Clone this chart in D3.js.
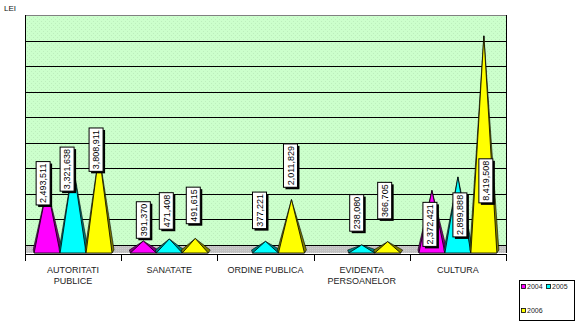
<!DOCTYPE html>
<html>
<head>
<meta charset="utf-8">
<script src="https://cdn.jsdelivr.net/npm/d3@7"></script>
<style>
  html, body { margin: 0; padding: 0; background: #fff; }
  svg { display: block; font-family: "Liberation Sans", Arial, sans-serif; }
</style>
</head>
<body>
<svg id="chart" width="576" height="322"></svg>
<script>
// Budget by domain, in LEI
const categories = [["AUTORITATI", "PUBLICE"], ["SANATATE"], ["ORDINE PUBLICA"], ["EVIDENTA", "PERSOANELOR"], ["CULTURA"]];
const seriesNames = ["2004", "2005", "2006"];
const values2004 = [2493511, 391370, null, null, 2372421];
const values2005 = [3321638, 471408, 377221, 238080, 2899888];
const values2006 = [3808911, 491615, 2011829, 366705, 8419508];
const valueTicks = [0, 1e6, 2e6, 3e6, 4e6, 5e6, 6e6, 7e6, 8e6];
const valueMax = 9e6;

// Hand-placed data label nudges (px) so the boxes do not collide
const labelDy = [[-4, -21, 0, 0, 34], [3, -28, -31, -32, 38], [-4, -33, -34, -41, 145]];
const labelDx = [[-4, 0, 0, 0, -2], [-6, -3, -6, -5, 2], [-3, -2, -1, -3, 2]];

const seriesValues = [values2004, values2005, values2006];
const fills = ["#ff00ff", "#00ffff", "#ffff00"];
const sides = ["#800080", "#008080", "#808000"];

const svg = d3.select("#chart");
const plotLeft = 25, plotRight = 506, plotTop = 15, wallBottom = 245, floorFront = 253, depth = 6;

const catKeys = categories.map(c => c.join(" "));
const x = d3.scaleBand().domain(catKeys).range([plotLeft, plotRight]).paddingInner(0).paddingOuter(0);
const groupPad = x.bandwidth() * 0.095;
const xs = d3.scaleBand().domain(seriesNames).range([groupPad, x.bandwidth() - groupPad]).padding(0);
const y = d3.scaleLinear().domain([0, valueMax]).range([wallBottom, plotTop]);

// dotted wall and floor patterns
const defs = svg.append("defs");
const pat = defs.append("pattern").attr("id", "wallDots").attr("width", 4).attr("height", 4)
  .attr("patternUnits", "userSpaceOnUse");
pat.append("rect").attr("width", 4).attr("height", 4).attr("fill", "#ccffcc");
pat.append("rect").attr("x", 1).attr("y", 1).attr("width", 1).attr("height", 1).attr("fill", "#bdeebd");
pat.append("rect").attr("x", 3).attr("y", 3).attr("width", 1).attr("height", 1).attr("fill", "#bdeebd");
const fpat = defs.append("pattern").attr("id", "floorDots").attr("width", 2).attr("height", 2)
  .attr("patternUnits", "userSpaceOnUse");
fpat.append("rect").attr("width", 2).attr("height", 2).attr("fill", "#c0c0c0");
fpat.append("rect").attr("x", 0).attr("y", 0).attr("width", 1).attr("height", 1).attr("fill", "#d0d0d0");

// back wall
svg.append("rect").attr("x", plotLeft).attr("y", plotTop).attr("width", plotRight - plotLeft).attr("height", wallBottom - plotTop)
  .attr("fill", "url(#wallDots)");

// gridlines
svg.append("g").selectAll("line").data(valueTicks).join("line")
  .attr("x1", plotLeft).attr("x2", plotRight)
  .attr("y1", d => Math.round(y(d)) + 0.5).attr("y2", d => Math.round(y(d)) + 0.5)
  .attr("stroke", "#000").attr("stroke-width", 1);
svg.append("line").attr("x1", plotLeft).attr("x2", plotRight).attr("y1", y(valueMax) + 0.5).attr("y2", y(valueMax) + 0.5)
  .attr("stroke", "#808080");
svg.append("line").attr("x1", plotRight + 0.5).attr("x2", plotRight + 0.5).attr("y1", plotTop).attr("y2", floorFront)
  .attr("stroke", "#000");

// floor
svg.append("rect").attr("x", plotLeft).attr("y", wallBottom + 1).attr("width", plotRight - plotLeft).attr("height", floorFront - wallBottom - 1)
  .attr("fill", "url(#floorDots)");

// pyramids
const marks = [];
seriesValues.forEach((vals, si) => {
  vals.forEach((v, ci) => {
    if (v == null) return;
    marks.push({ si, ci, v });
  });
});

const gP = svg.append("g");
marks.forEach(m => {
  const x0 = x(catKeys[m.ci]) + xs(seriesNames[m.si]);
  const w = xs.bandwidth();
  const ax = x0 + w / 2;
  const ay = y(m.v) + depth;
  const yb = floorFront;
  m.ax = ax; m.ay = ay;
  // back silhouette / side faces
  gP.append("path")
    .attr("d", `M${x0 - 1},${yb - 3} L${ax},${ay} L${x0 + w + 2},${yb - 3} L${x0 + w},${yb} L${x0},${yb} Z`)
    .attr("fill", sides[m.si]).attr("stroke", "#000").attr("stroke-width", 0.6).attr("stroke-linejoin", "round");
  // front face
  gP.append("path")
    .attr("d", `M${x0},${yb} L${ax},${ay} L${x0 + w},${yb} Z`)
    .attr("fill", fills[m.si]).attr("stroke", "#000").attr("stroke-width", 0.8).attr("stroke-linejoin", "round");
});

// axes
svg.append("line").attr("x1", plotLeft + 0.5).attr("x2", plotLeft + 0.5).attr("y1", plotTop).attr("y2", 260)
  .attr("stroke", "#000");
const axisG = svg.append("g").attr("transform", `translate(0,${floorFront + 1})`)
  .call(d3.axisBottom(x).tickSize(0).tickFormat(""));
axisG.select(".domain").attr("d", `M${plotLeft},0.5H${plotRight + 1}`).attr("stroke", "#000");
const bounds = catKeys.map(k => x(k)).concat([x(catKeys[catKeys.length - 1]) + x.bandwidth()]);
axisG.selectAll(".bound").data(bounds).join("line").attr("class", "bound")
  .attr("x1", d => Math.round(d) + 0.5).attr("x2", d => Math.round(d) + 0.5)
  .attr("y1", 0).attr("y2", 7).attr("stroke", "#000");

// category labels
const catG = svg.append("g");
categories.forEach((lines, i) => {
  const t = catG.append("text").attr("text-anchor", "middle").attr("font-size", 9).attr("fill", "#222")
    .attr("x", x(catKeys[i]) + x.bandwidth() / 2).attr("y", 273);
  lines.forEach((ln, j) => {
    t.append("tspan").attr("x", x(catKeys[i]) + x.bandwidth() / 2).attr("dy", j === 0 ? 0 : 11).text(ln);
  });
});

// unit label
svg.append("text").attr("x", 4).attr("y", 11).attr("font-size", 8).attr("fill", "#111").text("LEI");

// data labels
const fmt = d3.format(",");
const gL = svg.append("g");
marks.forEach(m => {
  const txt = fmt(m.v);
  const cx = m.ax + labelDx[m.si][m.ci];
  const cy = m.ay + labelDy[m.si][m.ci];
  const g = gL.append("g").attr("transform", `translate(${cx},${cy})`);
  const t = g.append("text").attr("transform", "rotate(-90)").attr("text-anchor", "middle")
    .attr("dy", "0.36em").attr("font-size", 9).attr("fill", "#000").text(txt);
  const len = t.node().getComputedTextLength();
  const bw = 14, bh = len + 4;
  g.insert("rect", "text").attr("x", -bw / 2 + 2).attr("y", -bh / 2 + 2).attr("width", bw).attr("height", bh).attr("fill", "#000");
  g.insert("rect", "text").attr("x", -bw / 2).attr("y", -bh / 2).attr("width", bw).attr("height", bh)
    .attr("fill", "#fff").attr("stroke", "#000").attr("stroke-width", 1);
});

// legend
const lg = svg.append("g");
lg.append("rect").attr("x", 519.5).attr("y", 280.5).attr("width", 55).attr("height", 40)
  .attr("fill", "#fff").attr("stroke", "#000");
const legendPos = [[521, 284], [546, 284], [521, 308]];
seriesNames.forEach((s, i) => {
  const [lx, ly] = legendPos[i];
  lg.append("rect").attr("x", lx + 0.5).attr("y", ly + 0.5).attr("width", 4).attr("height", 4)
    .attr("fill", fills[i]).attr("stroke", "#000").attr("stroke-width", 0.8);
  lg.append("text").attr("x", lx + 6).attr("y", ly + 5).attr("font-size", 7).attr("fill", "#222").text(s);
});
</script>
</body>
</html>
